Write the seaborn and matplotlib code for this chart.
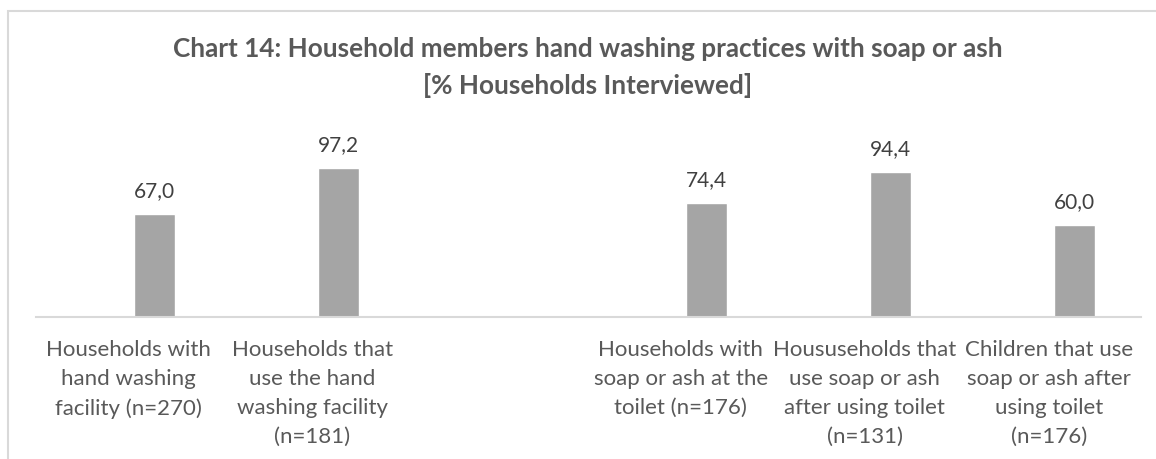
import matplotlib
matplotlib.use("Agg")
import matplotlib.pyplot as plt
from matplotlib.patches import Rectangle
import seaborn as sns
import pandas as pd
import numpy as np

categories = [
    "Households with\nhand washing\nfacility (n=270)",
    "Households that\nuse the hand\nwashing facility\n(n=181)",
    "",
    "Households with\nsoap or ash at the\ntoilet (n=176)",
    "Housuseholds that\nuse soap or ash\nafter using toilet\n(n=131)",
    "Children that use\nsoap or ash after\nusing toilet\n(n=176)",
]
values = [67.0, 97.2, np.nan, 74.4, 94.4, 60.0]
value_labels = ["67,0", "97,2", "", "74,4", "94,4", "60,0"]

title = "Chart 14: Household members hand washing practices with soap or ash\n[% Households Interviewed]"

sns.set_theme(style="white")
plt.rcParams["font.family"] = ["Lato", "DejaVu Sans"]

df = pd.DataFrame({"slot": list(range(len(categories))), "value": values})

W, H = 1156, 459
fig = plt.figure(figsize=(W / 100, H / 100), dpi=100)
fig.patch.set_facecolor("white")

ax_left, ax_right = 36 / W, 1141 / W
ax_bottom, ax_top = (H - 317) / H, (H - 163.5) / H
ax = fig.add_axes([ax_left, ax_bottom, ax_right - ax_left, ax_top - ax_bottom])

sns.barplot(data=df, x="slot", y="value", order=list(range(len(categories))),
            color="#a5a5a5", saturation=1, width=0.223, ax=ax)

# bars sit right of the category centre, as in a clustered layout
shift = 0.141
for p in ax.patches:
    p.set_x(p.get_x() + shift)

for i, (v, lab) in enumerate(zip(values, value_labels)):
    if not np.isnan(v):
        ax.annotate(lab, (i + shift, v), xytext=(0, 9.5), textcoords="offset points",
                    ha="center", va="bottom", fontsize=15, color="#404040")

ax.set_xlim(-0.5, len(categories) - 0.5)
ax.set_ylim(0, 100)
ax.set_xticks(range(len(categories)))
ax.set_xticklabels(categories, fontsize=16, color="#595959", linespacing=1.56)
ax.tick_params(axis="x", length=0, pad=16.5)
ax.set_yticks([])
ax.set_xlabel("")
ax.set_ylabel("")
for s in ["top", "right", "left"]:
    ax.spines[s].set_visible(False)
ax.spines["bottom"].set_color("#d9d9d9")
ax.spines["bottom"].set_linewidth(1.5)

fig.text(588 / W, (H - 67.5) / H, title, ha="center", va="center",
         fontsize=18.8, fontweight="bold", color="#595959", linespacing=1.58)

# chart border
fig.add_artist(Rectangle((8 / W, -0.2), 1.2, (H - 11) / H + 0.2, transform=fig.transFigure,
                         fill=False, edgecolor="#d9d9d9", linewidth=1.5))

fig.savefig("out.png", dpi=100, facecolor="white")
